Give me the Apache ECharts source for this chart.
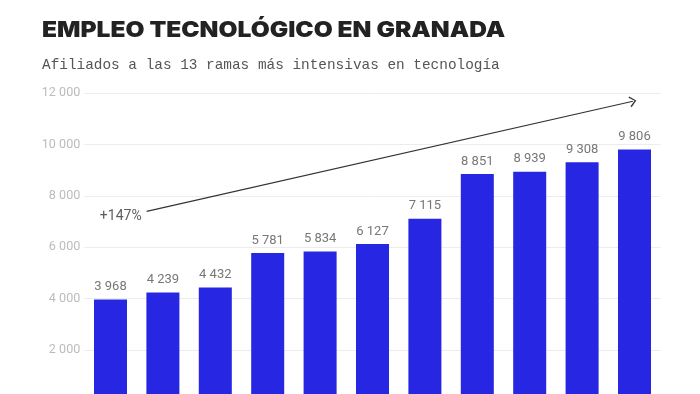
<!DOCTYPE html>
<html><head><meta charset="utf-8">
<script src="https://cdn.jsdelivr.net/npm/echarts@6/dist/echarts.min.js"></script>
<style>html,body{margin:0;padding:0;background:#fff;overflow:hidden;width:700px;height:394px}#c{width:700px;height:420px}</style>
</head><body><div id="c"></div>
<script>
const categories = ['2013','2014','2015','2016','2017','2018','2019','2020','2021','2022','2023'];
const values = [3968, 4239, 4432, 5781, 5834, 6127, 7115, 8851, 8939, 9308, 9806];
const yTicks = [0, 2000, 4000, 6000, 8000, 10000, 12000];
const trendStart = [0.69, 7400];
const trendEnd = [9.97, 11680];
const trendLabel = '+147%';
const titleText = 'EMPLEO TECNOLÓGICO EN GRANADA';
const subtitleText = 'Afiliados a las 13 ramas más intensivas en tecnología';

const fmt = v => String(v).replace(/\B(?=(\d{3})+(?!\d))/g, ' ');
const chart = echarts.init(document.getElementById('c'));
chart.setOption({
  backgroundColor: '#fff',
  animation: false,
  graphic: [
    {type: 'text', x: 42, y: 19, scaleX: 1.115, silent: true,
     style: {text: titleText, font: '900 22px Inter', fill: '#222', textVerticalAlign: 'top'}},
    {type: 'text', x: 42, y: 58, silent: true,
     style: {text: subtitleText, font: '14.4px "Liberation Mono"', fill: '#555', textVerticalAlign: 'top'}}
  ],
  grid: {left: 84.3, width: 576.4, top: 93, height: 308.6},
  xAxis: [
    {type: 'category', data: categories, axisLine: {show: false}, axisTick: {show: false}, axisLabel: {show: false}},
    {type: 'value', min: -0.5, max: 10.5, show: false}
  ],
  yAxis: {
    type: 'value', min: yTicks[0], max: yTicks[yTicks.length - 1], interval: 2000,
    axisLine: {show: false}, axisTick: {show: false},
    axisLabel: {color: '#bcbcbc', fontFamily: 'Roboto', fontSize: 12.6, margin: 4, formatter: v => fmt(v)},
    splitLine: {lineStyle: {color: '#ececec', width: 1}}
  },
  series: [
    {type: 'bar', data: values, barCategoryGap: '37%', itemStyle: {color: '#2626E3'},
     label: {show: true, position: 'top', distance: 6, color: '#777', fontFamily: 'Roboto', fontSize: 13,
             formatter: p => fmt(p.value)}},
    {type: 'line', xAxisIndex: 1, data: [], silent: true,
     markLine: {
       silent: true, animation: false,
       lineStyle: {color: '#333', width: 1.2, type: 'solid'},
       label: {show: false},
       data: [[
         {coord: trendStart, symbol: 'none'},
         {coord: trendEnd, symbol: 'path://M0,10 L10,0 L20,10 L18,11.5 L10,3 L2,11.5 Z', symbolSize: [11, 7]}
       ]]
     }},
    {type: 'scatter', xAxisIndex: 1, data: [[trendStart[0], trendStart[1]]], symbolSize: 0, silent: true,
     label: {show: true, formatter: trendLabel, position: 'left', distance: 5, offset: [0, 5],
             color: '#333', fontFamily: 'Roboto', fontSize: 14}}
  ]
});
</script></body></html>
